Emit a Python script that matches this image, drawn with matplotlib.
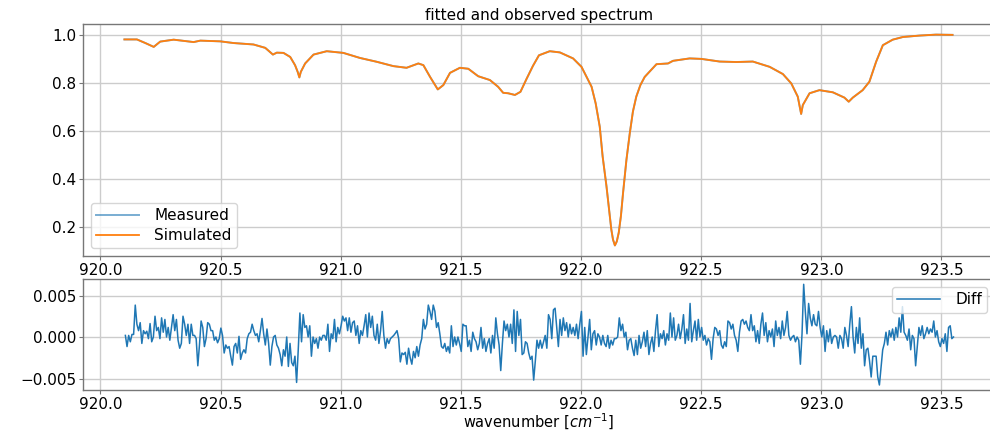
import numpy as np
import matplotlib
matplotlib.use("Agg")
import matplotlib.pyplot as plt

# ---- spectrum ----
spec_x = [920.100, 920.152, 920.187, 920.222, 920.249, 920.305, 920.388, 920.416,
          920.499, 920.554, 920.637, 920.686, 920.718, 920.734, 920.762, 920.790,
          920.810, 920.821, 920.828, 920.834, 920.852, 920.887, 920.942, 921.011,
          921.080, 921.150, 921.219, 921.274, 921.323, 921.344, 921.372, 921.404,
          921.427, 921.455, 921.496, 921.531, 921.572, 921.621, 921.655, 921.676,
          921.697, 921.725, 921.748, 921.773, 921.800, 921.825, 921.870, 921.912,
          921.967, 922.002, 922.044, 922.061, 922.078, 922.090, 922.106, 922.126,
          922.133, 922.141, 922.149, 922.157, 922.166, 922.175, 922.189, 922.203,
          922.216, 922.230, 922.247, 922.265, 922.314, 922.362, 922.383, 922.452,
          922.501, 922.577, 922.646, 922.715, 922.785, 922.840, 922.875, 922.902,
          922.916, 922.923, 922.951, 922.992, 923.048, 923.096, 923.114, 923.131,
          923.172, 923.200, 923.228, 923.256, 923.297, 923.339, 923.408, 923.477,
          923.546]
measured = [0.980, 0.980, 0.965, 0.949, 0.971, 0.979, 0.969, 0.975,
            0.972, 0.965, 0.959, 0.945, 0.917, 0.925, 0.924, 0.907,
            0.873, 0.845, 0.822, 0.845, 0.880, 0.917, 0.931, 0.924,
            0.903, 0.887, 0.869, 0.862, 0.880, 0.873, 0.824, 0.772,
            0.790, 0.841, 0.862, 0.858, 0.827, 0.811, 0.783, 0.758,
            0.756, 0.749, 0.762, 0.815, 0.870, 0.914, 0.931, 0.926,
            0.901, 0.866, 0.783, 0.714, 0.617, 0.493, 0.369, 0.190,
            0.148, 0.123, 0.140, 0.176, 0.245, 0.342, 0.479, 0.590,
            0.680, 0.742, 0.790, 0.824, 0.877, 0.880, 0.891, 0.901,
            0.899, 0.888, 0.886, 0.888, 0.866, 0.836, 0.797, 0.742,
            0.670, 0.707, 0.756, 0.769, 0.760, 0.738, 0.721, 0.738,
            0.769, 0.804, 0.887, 0.956, 0.979, 0.990, 0.996, 1.000,
            0.999]
simulated = list(measured)

# ---- residual (units of 1e-3) ----
diff_start, diff_end = 920.104, 923.550
diff_milli = [
    0.23, -1.12, 0.23, -0.54, 0.35, 0.35, 3.91, 1.59, 0.81, 1.78, -0.74, 0.81, 0.43, 0.74, -0.16,
    1.67, -0.54, 0.04, 2.56, 0.81, 1.20, -0.16, 2.36, 0.62, 2.17, 0.04, 1.20, -0.35, 1.20, 2.75,
    0.81, 2.17, -0.35, -1.32, -0.74, 2.56, 1.59, 0.23, 1.59, -0.74, 1.59, 0.23, 0.23, -0.16, -3.45,
    -0.93, 1.98, 1.20, -1.12, -0.16, 1.78, 1.59, 0.81, 0.81, -0.35, 0.04, -0.66, -0.16, 1.12, 0.23,
    -1.90, -0.93, -1.32, -1.12, -2.29, -3.37, -1.12, -0.74, -1.90, 0.12, -2.67, -1.90, -1.51, -1.90, -0.16,
    0.43, 0.62, 1.59, 0.81, 0.23, 0.43, -0.54, 0.81, 2.29, 0.43, -0.93, 1.01, -0.74, -3.37, -1.12,
    0.04, 0.23, -0.93, -1.32, -2.09, -3.45, -1.51, -2.29, 0.04, -3.53, -0.74, -3.06, -3.45, -2.29, -5.47,
    -1.51, 2.95, -0.54, 2.75, 1.20, 1.40, 0.04, 1.40, -2.29, 0.04, -0.74, -0.16, -1.32, 0.04, -0.35,
    0.23, 0.23, -0.35, 1.59, -1.71,
    0.43, -0.16, 2.17, -0.54, 1.20, 0.43, 1.40, 2.56, 1.98, 2.36, 0.81, 2.36, 0.62, 1.78, 1.98,
    0.23, 1.40, -0.74, 0.81, 0.23, 1.40, 2.75, 0.04, 2.95, 1.20, 2.56, 0.23, -0.35, 1.59, -0.74,
    0.81, 3.14, 0.23, -1.32, -0.16, -0.74, -0.16, 0.04, 0.23, 0.50, 0.81, -0.16, -2.98, -1.90, -2.09,
    -1.82, -3.26, -1.32, -2.48, -3.26, -1.71, -2.48, -1.12, -2.29, -0.93, -0.16, 2.17, 1.01, 1.59, 3.91,
    3.14, 2.17, 3.91, 3.14, 1.20, 1.78, 0.43, -1.12, -1.32, -0.74, -1.71, -1.12, -1.90, 1.40, -1.12,
    0.04, -0.93, 0.04, -0.74, -1.71, 1.59, 1.40, 1.40, -1.12, -0.35, -1.71, 0.62, -0.16, -0.54, -1.51,
    -0.74, 1.20, -1.32, -0.16, -1.71, -0.74, -0.16, -1.90, 0.23, -1.32, 2.36, 0.43, -0.93, -4.03, -0.74,
    1.98, 0.81, 1.59, 0.04, 1.59, -0.74, 3.33, -1.71, 3.14, 0.23, 2.17, -2.09, -1.90, -0.54, -0.74,
    -1.90, -2.67, -2.29, -5.19, -2.87, -0.35, -1.32,
    -0.35, -1.32, -0.54, 0.23, -1.32, 2.75, 2.17, -0.16, 3.33, 3.53, 1.20, -1.12, 2.17, 0.23, 2.36,
    0.81, 1.78, 0.04, 1.59, 0.43, 1.20, 0.23, 1.59, -0.16, 1.59, 3.14, -2.29, 1.20, -2.09, 0.04,
    2.17, -1.51, 0.43, 0.81, -0.93, 0.43, 0.04, -0.93, 0.23, -0.74, -1.12, 0.23, -1.32, -0.35, -0.93,
    -0.16, -0.16, 0.04, 2.36, 0.81, 1.59, 0.04, 0.62, -1.51, -0.35, -0.16, -1.32, -2.21, -0.35, -2.09,
    0.23, -1.32, -0.54, 0.62, -1.12, 0.81, -2.09, -0.74, 0.04, -1.71, 0.81, 2.75, -1.12, 0.43, -0.16,
    0.81, -0.93, 0.43, -0.35, 2.95, 0.04, 2.36, -0.35, 0.23, 1.59, -0.16, 1.01, 2.75, -0.74, 1.01,
    -0.35, 4.11, -0.54, 0.81, 1.98, -0.35, 2.17, 0.04, 1.20, -0.35, 0.23, -0.93, -0.16, -0.54, -2.67,
    -0.16, 1.20, 1.01, 0.23, 0.81, -0.93, -1.32, -0.54, -1.12, 1.98, 1.78, 1.01, 1.59, 0.23, -0.35,
    -1.71, 0.62, 1.98, 2.17, 1.59, 1.98, 1.20,
    0.81, 2.75, 0.81, 1.40, -0.54, 0.81, -0.74, 1.59, 2.95, 0.23, 1.78, -0.54, 0.81, 0.04, 1.01,
    -1.12, 1.98, 0.23, 1.20, -0.16, 1.98, 0.23, 1.20, 3.14, 0.23, -0.35, 0.04, 0.23, -0.54, 0.04,
    -0.35, -3.26, 0.43, 6.43, 3.14, 0.43, 4.11, 2.36, 1.40, 2.75, 1.59, 1.40, 3.14, 1.20, 0.04,
    1.40, -1.71, 0.81, -0.54, 1.01, -0.74, 0.04, 0.23, 0.04, -1.32, 0.23, -0.16, -1.32, 1.20, 0.23,
    -1.12, 1.59, 3.72, 0.04, -1.90, 1.20, -0.74, 2.36, -1.32, 0.43, -3.45, -1.51, -1.32, -2.87, -4.81,
    -2.29, -2.29, -2.29, -4.81, -5.78, -3.64, -1.51, -0.74, 0.62, -0.93, 0.81, 0.04, 1.01, -0.35, 1.20,
    0.04, 2.36, 0.62, 3.72, 0.62, 0.23, -0.35, 1.01, -1.51, 0.23, -0.16, -3.45, -1.12, 1.20, 0.23,
    1.40, -0.16, 0.43, 1.20, 0.43, 1.01, 0.62, 1.98, 0.04, 0.81, -0.54, -1.12, -0.16, -0.74, 0.43,
    -1.71, 1.20, 1.40, -0.16, 0.04,
]
diff = np.array(diff_milli) * 1e-3
diff_x = np.linspace(diff_start, diff_end, len(diff))

title = "fitted and observed spectrum"
xlabel = "wavenumber [$cm^{-1}$]"

FS = 11
plt.rcParams['font.family'] = ['DejaVu Sans']
plt.rcParams['font.size'] = FS

fig = plt.figure(figsize=(9.9, 4.3), dpi=100)
ax1 = fig.add_axes([0.0838, 0.4047, 0.9212, 0.5393])
ax2 = fig.add_axes([0.0838, 0.0930, 0.9212, 0.2575])

spine_col = '#777777'
for ax in (ax1, ax2):
    ax.grid(True, color='#cccccc', linewidth=1.0)
    ax.set_axisbelow(True)
    for s in ax.spines.values():
        s.set_color(spine_col)
        s.set_linewidth(1.0)
    ax.tick_params(labelsize=FS, color=spine_col, pad=2, length=3)

ax1.plot(spec_x, measured, color='C0', alpha=0.6, linewidth=1.4, label='Measured')
ax1.plot(spec_x, simulated, color='C1', linewidth=1.3, label='Simulated')
ax1.set_title(title, fontsize=FS, pad=3)
ax1.legend(loc='lower left', fontsize=FS, handlelength=2.8, borderpad=0.35,
           labelspacing=0.3, handletextpad=1.0)

ax2.plot(diff_x, diff, color='C0', linewidth=1.1, label='Diff')
ax2.legend(loc='upper right', fontsize=FS, handlelength=2.8, borderpad=0.35,
           handletextpad=1.0)
ax2.set_xlabel(xlabel, fontsize=10.5)
ax2.xaxis.set_label_coords(0.5, -0.195)

xmin = min(spec_x[0], diff_start)
xmax = max(spec_x[-1], diff_end)
pad = 0.05 * (xmax - xmin)
for ax in (ax1, ax2):
    ax.set_xlim(xmin - pad, xmax + pad)
    ax.set_xticks([920.0, 920.5, 921.0, 921.5, 922.0, 922.5, 923.0, 923.5])
ax1.set_yticks([0.2, 0.4, 0.6, 0.8, 1.0])
ax2.set_yticks([-0.005, 0.0, 0.005])
ax2.yaxis.set_major_formatter(matplotlib.ticker.FuncFormatter(
    lambda v, p: ('\u2212' if v < -1e-12 else '') + '%.3f' % abs(v)))

fig.savefig('out.png', dpi=100)
